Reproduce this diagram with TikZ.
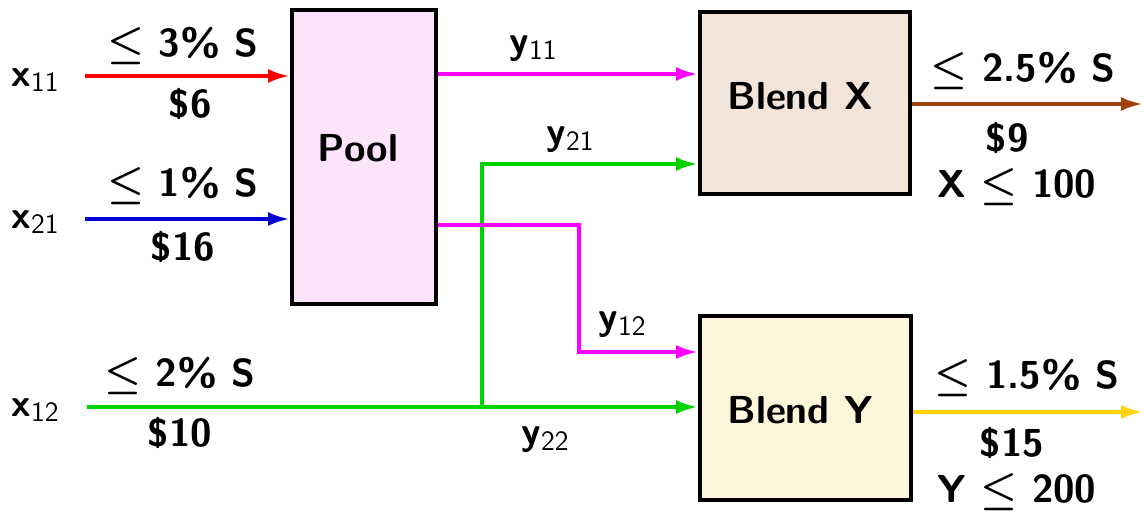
\documentclass[tikz,border=0pt]{standalone}
\usetikzlibrary{arrows.meta}
\definecolor{poolc}{RGB}{252,228,252}
\definecolor{bxc}{RGB}{242,228,216}
\definecolor{byc}{RGB}{253,246,218}
\definecolor{cred}{RGB}{255,0,0}
\definecolor{cblue}{RGB}{0,0,210}
\definecolor{cgreen}{RGB}{0,210,0}
\definecolor{cmag}{RGB}{255,0,255}
\definecolor{cbrown}{RGB}{160,64,10}
\definecolor{cgold}{RGB}{255,212,0}
\newcommand{\mysub}[1]{\raisebox{-0.3ex}{\fontsize{14}{14}\selectfont\mdseries #1}}
\begin{document}
\begin{tikzpicture}[x=0.5pt,y=-0.5pt,
  font=\fontsize{19.5}{22}\selectfont\sffamily\bfseries\boldmath,
  blk/.style={draw=black, line width=2pt, inner sep=0pt, align=center},
  flow/.style={line width=2pt, -{Latex[length=11pt,width=7pt]}},
  lbl/.style={inner sep=0pt, anchor=center}]
\useasboundingbox (0,0) rectangle (1143,518);

\node[blk, fill=poolc, minimum width=72pt, minimum height=147pt] (pool) at (364,157) {};
\node[lbl] (tpool) at (358,148) {Pool};
\node[blk, fill=bxc, minimum width=105pt, minimum height=91pt] (bx) at (805,103) {};
\node[lbl] (tbx) at (800,96) {Blend X};
\node[blk, fill=byc, minimum width=105.5pt, minimum height=92pt] (by) at (805.5,408) {};
\node[lbl] (tby) at (800,410) {Blend Y};

% inputs
\coordinate (s11) at (85,76);
\coordinate (s21) at (85,219);
\coordinate (s12) at (87,407);
\draw[flow, cred] (s11) -- (s11 -| pool.west);
\draw[flow, cblue] (s21) -- (s21 -| pool.west);
\draw[flow, cgreen] (s12) -- (s12 -| by.west);

% pool outputs
\coordinate (p1) at (436,74);
\coordinate (p2) at (436,225);
\draw[flow, cmag] (p1 -| pool.east) -- (p1 -| bx.west);
\coordinate (j21) at (482,407);
\coordinate (k21) at (482,164);
\draw[flow, cgreen] (j21) -- (k21) -- (k21 -| bx.west);
\coordinate (k12) at (579,352);
\draw[flow, cmag] (p2 -| pool.east) -- (p2 -| k12) -- (k12) -- (k12 -| by.west);

% outputs
\coordinate (ox) at (1143,104);
\coordinate (oy) at (1143,412);
\draw[flow, cbrown] (ox -| bx.east) -- (ox);
\draw[flow, cgold] (oy -| by.east) -- (oy);

% labels
\node[lbl] (lx11) at (35,80) {x\mysub{11}};
\node[lbl] (lx21) at (35,222) {x\mysub{21}};
\node[lbl] (lx12) at (35,410) {x\mysub{12}};
\node[lbl] (a1) at (183,46) {$\leq$ 3\% S};
\node[lbl] (b1) at (190,104) {\$6};
\node[lbl] (a2) at (183,186) {$\leq$ 1\% S};
\node[lbl] (b2) at (183,247) {\$16};
\node[lbl] (a3) at (180,376) {$\leq$ 2\% S};
\node[lbl] (b3) at (180,433) {\$10};
\node[lbl] (ly11) at (533,49) {y\mysub{11}};
\node[lbl] (ly21) at (570,140) {y\mysub{21}};
\node[lbl] (ly12) at (622,325) {y\mysub{12}};
\node[lbl] (ly22) at (545,440) {y\mysub{22}};
\node[lbl] (ax) at (1023,71) {$\leq$ 2.5\% S};
\node[lbl] (bx9) at (1007,138) {\$9};
\node[lbl] (cx) at (1017,187) {X $\leq$ 100};
\node[lbl] (ay) at (1027,378) {$\leq$ 1.5\% S};
\node[lbl] (by15) at (1012,443) {\$15};
\node[lbl] (cy) at (1017,492) {Y $\leq$ 200};
\end{tikzpicture}
\end{document}
